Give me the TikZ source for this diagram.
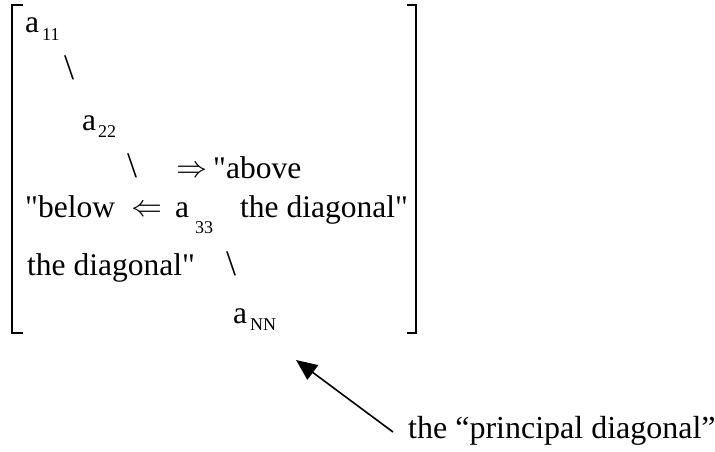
\documentclass[tikz,border=0pt]{standalone}
\usepackage{fontspec}
\setmainfont{Liberation Serif}
\newfontfamily\arrfont{latinmodern-math.otf}
\usetikzlibrary{arrows.meta}
\begin{document}
\begin{tikzpicture}[x=1pt,y=-1pt,
  txt/.style={anchor=base west,inner sep=0pt,font=\fontsize{31.5}{36}\selectfont},
  lab/.style={anchor=base west,inner sep=0pt,font=\fontsize{32}{36}\selectfont},
  sub/.style={anchor=base west,inner sep=0pt,font=\fontsize{18}{20}\selectfont},
  bs/.style={anchor=base west,inner sep=0pt,font=\fontsize{36}{40}\selectfont},
  arr/.style={anchor=base west,inner sep=0pt,font=\arrfont\fontsize{31}{36}\selectfont},
  brk/.style={line width=1.6pt},
  ptr/.style={line width=1.6pt,-{Triangle[length=21pt,width=18pt]}}]
\useasboundingbox (0,0) rectangle (715,452);
% brackets
\draw[brk] (23,5) -- (12,5) -- (12,333) -- (23,333);
\draw[brk] (407,5) -- (416,5) -- (416,333) -- (407,333);
% row 1
\node[txt] (a1) at (25,33) {a};
\node[sub] (s1) at (42,41) {11};
% row 2
\node[bs] (b1) at (64,80) {\textbackslash};
% row 3
\node[txt] (a2) at (82,130) {a};
\node[sub] (s2) at (98,137) {22};
% row 4
\node[bs] (b2) at (127,177) {\textbackslash};
\node[arr] (r1) at (176,177) {⇒};
\node[txt] (ab) at (213,178) {\textquotedbl above};
% row 5
\node[txt] (be) at (25,217) {\textquotedbl below};
\node[arr] (l1) at (131,216) {⇐};
\node[txt] (a3) at (175,217) {a};
\node[sub] (s3) at (195,233) {33};
\node[txt] (td1) at (240,217) {the diagonal\textquotedbl};
% row 6
\node[txt] (td2) at (27,275) {the diagonal\textquotedbl};
\node[bs] (b3) at (226,275) {\textbackslash};
% row 7
\node[txt] (a4) at (233,323) {a};
\node[sub] (s4) at (250,330) {NN};
% label and pointer
\node[lab] (lbl) at (408,438) {the “principal diagonal”};
\coordinate (tail) at (393,432);
\coordinate (tip) at (296,360);
\draw[ptr] (tail) -- (tip);
\end{tikzpicture}
\end{document}
